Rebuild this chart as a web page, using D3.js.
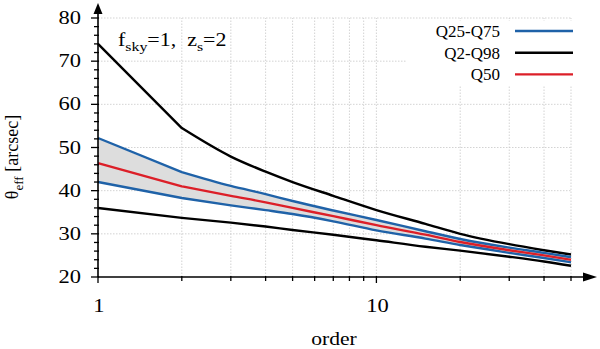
<!DOCTYPE html>
<html>
<head>
<meta charset="utf-8">
<script src="https://cdn.jsdelivr.net/npm/d3@7"></script>
<style>
  body { margin: 0; background: #fff; }
  svg, svg text { font-family: "Liberation Serif", "Times New Roman", "DejaVu Serif", serif; }
</style>
</head>
<body>
<svg id="chart" width="600" height="349"></svg>
<script>
// values
var orders   = [1, 2, 3, 4, 5, 7, 10, 15, 20, 30, 40, 50];
var q2       = [36.0, 33.7, 32.6, 31.7, 30.9, 29.8, 28.5, 27.0, 26.1, 24.7, 23.6, 22.6];
var q25      = [42.0, 38.3, 36.6, 35.5, 34.6, 32.9, 30.8, 28.9, 27.4, 25.6, 24.4, 23.4];
var q50      = [46.4, 41.0, 38.8, 37.3, 36.0, 34.1, 32.0, 29.8, 28.1, 26.2, 25.0, 24.0];
var q75      = [52.2, 44.3, 41.1, 39.2, 37.6, 35.4, 33.2, 30.6, 28.8, 26.8, 25.6, 24.6];
var q98      = [74.0, 54.5, 47.9, 44.4, 42.0, 38.8, 35.5, 32.3, 30.0, 27.6, 26.2, 25.2];

var xMajor   = [1, 10];
var xMinor   = [2, 3, 4, 5, 6, 7, 8, 9, 20, 30, 40, 50];
var yMajor   = [20, 30, 40, 50, 60, 70, 80];
var yMinor   = d3.range(22, 80, 2).filter(function(v){ return v % 10 !== 0; });

var legendLabels = ['Q25-Q75', 'Q2-Q98', 'Q50'];
var blue = '#1f62a8', red = '#dc1f28', black = '#000';
var legendColors = [blue, black, red];
var serif = '"Liberation Serif", "Times New Roman", serif';

var svg = d3.select('#chart').attr('font-family', serif);
var x = d3.scaleLog().domain([1, 50]).range([98, 571]);
var y = d3.scaleLinear().domain([20, 80]).range([277, 18]);

// grid
var grid = svg.append('g').attr('stroke', '#c8c8c8').attr('stroke-width', 0.8)
  .attr('stroke-dasharray', '1.5,1.5');
grid.selectAll('line.v').data(xMinor.concat([10])).enter().append('line')
  .attr('x1', d => x(d)).attr('x2', d => x(d))
  .attr('y1', y(20)).attr('y2', y(80));
grid.selectAll('line.h').data(yMajor.slice(1)).enter().append('line')
  .attr('x1', x(1)).attr('x2', x(50))
  .attr('y1', d => y(d)).attr('y2', d => y(d));

// legend background hides the grid
svg.append('rect').attr('x', 407).attr('y', 21).attr('width', 185).attr('height', 64)
  .attr('fill', '#fff');

var pts = orders.map(function(o, i){ return {o: o, q2: q2[i], q25: q25[i], q50: q50[i], q75: q75[i], q98: q98[i]}; });

// band between Q25 and Q75
svg.append('path').datum(pts)
  .attr('fill', '#dddddd')
  .attr('d', d3.area().curve(d3.curveMonotoneX).x(d => x(d.o)).y0(d => y(d.q25)).y1(d => y(d.q75)));

// straight first segment (kink at order 2), smooth afterwards
function drawLine(key, color){
  var smooth = d3.line().curve(d3.curveMonotoneX).x(d => x(d.o)).y(d => y(d[key]))(pts.slice(1));
  var d = 'M' + x(pts[0].o) + ',' + y(pts[0][key]) + 'L' + smooth.slice(1);
  svg.append('path')
    .attr('fill', 'none').attr('stroke', color).attr('stroke-width', 2.4)
    .attr('stroke-linejoin', 'round')
    .attr('d', d);
}
drawLine('q2', black);
drawLine('q98', black);
drawLine('q25', blue);
drawLine('q75', blue);
drawLine('q50', red);

// axes
var ax = svg.append('g').attr('stroke', '#000');
ax.append('line').attr('x1', x(1)).attr('x2', 588).attr('y1', y(20)).attr('y2', y(20)).attr('stroke-width', 1.6);
ax.append('line').attr('x1', x(1)).attr('x2', x(1)).attr('y1', y(20)).attr('y2', 10).attr('stroke-width', 1.6);
svg.append('path').attr('d', 'M597,' + y(20) + 'L583,' + (y(20) - 4.5) + 'L583,' + (y(20) + 4.5) + 'Z').attr('fill', '#000');
svg.append('path').attr('d', 'M' + x(1) + ',3L' + (x(1) - 4.5) + ',14L' + (x(1) + 4.5) + ',14Z').attr('fill', '#000');

ax.selectAll('line.xM').data(xMajor).enter().append('line')
  .attr('x1', d => x(d)).attr('x2', d => x(d)).attr('y1', y(20) - 1).attr('y2', y(20) + 6).attr('stroke-width', 1.3);
ax.selectAll('line.xm').data(xMinor).enter().append('line')
  .attr('x1', d => x(d)).attr('x2', d => x(d)).attr('y1', y(20) - 1).attr('y2', y(20) + 4).attr('stroke-width', 1.3);
ax.selectAll('line.yM').data(yMajor).enter().append('line')
  .attr('x1', x(1) - 7).attr('x2', x(1) + 1).attr('y1', d => y(d)).attr('y2', d => y(d)).attr('stroke-width', 1.3);
ax.selectAll('line.ym').data(yMinor).enter().append('line')
  .attr('x1', x(1) - 4).attr('x2', x(1) + 1).attr('y1', d => y(d)).attr('y2', d => y(d)).attr('stroke-width', 1.3);

// tick labels (the reference glyphs are a bit wider than the font, so stretch)
svg.selectAll('text.yl').data(yMajor).enter().append('text')
  .attr('font-family', serif)
  .attr('transform', d => 'translate(81,' + (y(d) + 6) + ') scale(1.25,1)')
  .attr('text-anchor', 'end')
  .attr('font-size', 18).text(d => d);
svg.selectAll('text.xl').data(xMajor).enter().append('text')
  .attr('font-family', serif)
  .attr('transform', d => 'translate(' + (x(d) + 1) + ',312) scale(1.25,1)')
  .attr('text-anchor', 'middle')
  .attr('font-size', 18).text(d => d);

// axis titles
svg.append('text').attr('transform', 'translate(334,345) scale(1.2,1)').attr('text-anchor', 'middle')
  .attr('font-family', serif).attr('font-size', 18).text('order');
var yt = svg.append('text').attr('transform', 'translate(18,157) rotate(-90)')
  .attr('font-family', serif).attr('text-anchor', 'middle').attr('font-size', 18);
yt.append('tspan').text('θ');
yt.append('tspan').attr('font-size', 13).attr('dy', 5).text('eff');
yt.append('tspan').attr('dy', -5).text(' [arcsec]');

// annotation
var ann = svg.append('text').attr('transform', 'translate(118,46) scale(1.22,1)')
  .attr('font-family', serif).attr('font-size', 18).style('white-space', 'pre');
ann.append('tspan').text('f');
ann.append('tspan').attr('font-size', 13).attr('dy', 5).text('sky');
ann.append('tspan').attr('dy', -5).text('=1,  z');
ann.append('tspan').attr('font-size', 13).attr('dy', 5).text('s');
ann.append('tspan').attr('dy', -5).text('=2');

// legend
var lg = svg.append('g');
legendLabels.forEach(function(lab, i){
  var yy = 31 + i * 21.7;
  lg.append('text').attr('x', 500).attr('y', yy + 6).attr('text-anchor', 'end')
    .attr('font-family', serif).attr('font-size', 17).text(lab);
  lg.append('line').attr('x1', 515).attr('x2', 573).attr('y1', yy).attr('y2', yy)
    .attr('stroke', legendColors[i]).attr('stroke-width', 2.4);
});
</script>
</body>
</html>
